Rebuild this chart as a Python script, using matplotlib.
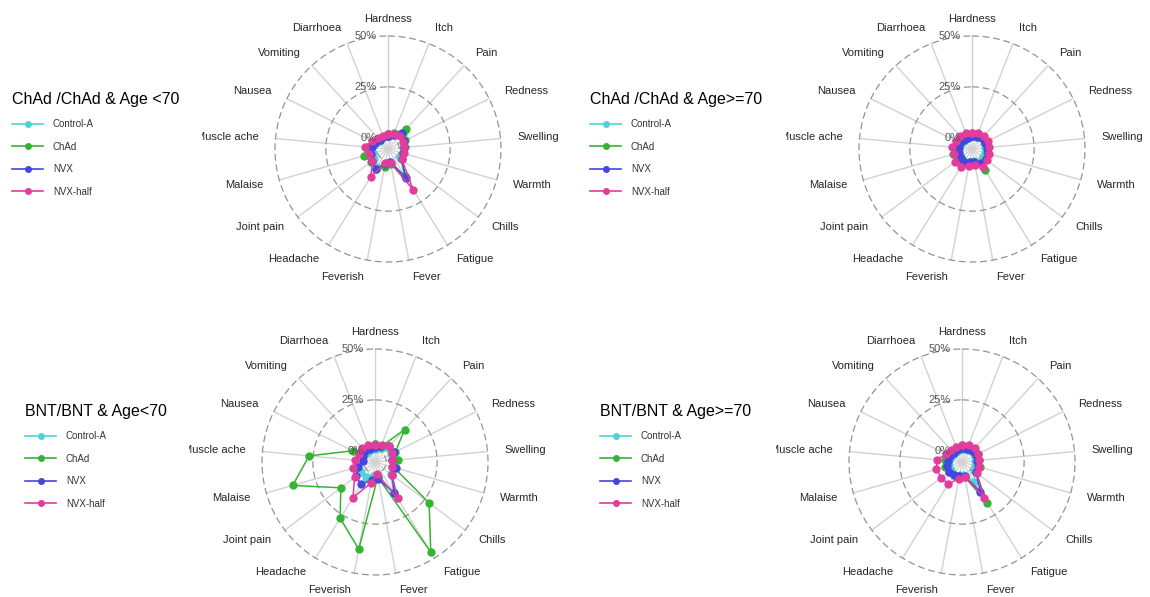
import numpy as np
import matplotlib.pyplot as plt
from matplotlib.lines import Line2D

plt.rcParams['font.family'] = ['Liberation Sans', 'DejaVu Sans']

symptoms = ['Hardness', 'Itch', 'Pain', 'Redness', 'Swelling', 'Warmth', 'Chills',
            'Fatigue', 'Fever', 'Feverish', 'Headache', 'Joint pain', 'Malaise',
            'Muscle ache', 'Nausea', 'Vomiting', 'Diarrhoea']
groups = ['Control-A', 'ChAd', 'NVX', 'NVX-half']
colors = ['#4fd3d6', '#33b533', '#4545e0', '#e23c9c']
grid_values = [0, 25, 50]
grid_labels = ['0%', '25%', '50%']

# % reporting each symptom, order as in `symptoms`
chad_lt70_control = [1, 2, 6, 3, 2, 2, 2, 10, 1, 2, 5, 3, 2, 3, 1, 0, 1]
chad_lt70_chad = [2, 3, 7.5, 4, 3, 2, 3, 10, 2, 3.5, 6, 5, 6.5, 5, 2, 0.5, 1]
chad_lt70_nvx = [1, 2, 5, 3.5, 2.5, 2, 3, 11, 1, 2, 6, 4, 3, 2.5, 1.5, 0.5, 1]
chad_lt70_nvxhalf = [2, 2.5, 3, 2.5, 2.5, 2.5, 3, 18, 1.5, 1.5, 10.5, 4, 4, 6, 3, 2, 1.5]

chad_ge70_control = [1, 1, 1.5, 1, 1, 1, 1, 2, 0.5, 1, 1.5, 1, 1, 1, 0.5, 0, 0.5]
chad_ge70_chad = [1, 1.5, 2, 2, 2.5, 2, 3, 6.3, 1, 1, 2, 2.5, 4.3, 3.5, 2.5, 1, 1]
chad_ge70_nvx = [1, 1, 1.5, 1.5, 2, 2.5, 3, 2.5, 1, 1, 2, 1.5, 1, 1, 1, 0.5, 0.5]
chad_ge70_nvxhalf = [2.5, 3, 3, 3, 3, 3, 3.5, 5, 2.5, 3, 4.8, 4.8, 3.5, 4.3, 3, 3, 2.8]

bnt_lt70_control = [1, 2, 4, 3.3, 3, 3, 4, 12, 2, 2, 3, 2.8, 3, 2, 1, 0.5, 1]
bnt_lt70_chad = [3.3, 2.5, 16, 5.7, 5.8, 4, 27.8, 46.5, 2, 38, 27, 15.5, 36.5, 27, 6.8, 2, 2]
bnt_lt70_nvx = [2, 3, 5, 5, 2.7, 5, 5, 12.5, 3, 3.3, 7.4, 6, 3, 0.5, 1.3, 2, 1.5]
bnt_lt70_nvxhalf = [3, 3.5, 5, 4, 3, 3, 5, 15.5, 0.5, 5, 15, 7, 5.8, 4.3, 3, 4, 3.3]

bnt_ge70_control = [1, 1, 2, 1.5, 1, 1, 2, 6, 1, 1, 2, 1, 1, 1, 0.5, 0, 0.5]
bnt_ge70_chad = [2, 2.5, 3, 3, 3, 3.5, 3, 18, 2, 1.5, 2, 2.5, 3, 2.8, 1.5, 1, 1]
bnt_ge70_nvx = [1.5, 1.5, 2, 2, 2, 2.5, 3, 11.7, 1.5, 1.5, 2, 2.7, 2, 1.5, 1, 0.5, 1]
bnt_ge70_nvxhalf = [3, 3.5, 3.7, 3.5, 3, 3, 3.5, 15, 1.8, 2.7, 7.2, 7.2, 7.5, 6.8, 3, 2.5, 2.3]

panels = [
    ('ChAd /ChAd & Age <70',
     [chad_lt70_control, chad_lt70_chad, chad_lt70_nvx, chad_lt70_nvxhalf],
     (388, 149), (12, 92)),
    ('ChAd /ChAd & Age>=70',
     [chad_ge70_control, chad_ge70_chad, chad_ge70_nvx, chad_ge70_nvxhalf],
     (972, 149), (590, 92)),
    ('BNT/BNT & Age<70',
     [bnt_lt70_control, bnt_lt70_chad, bnt_lt70_nvx, bnt_lt70_nvxhalf],
     (375, 462), (25, 404)),
    ('BNT/BNT & Age>=70',
     [bnt_ge70_control, bnt_ge70_chad, bnt_ge70_nvx, bnt_ge70_nvxhalf],
     (962, 462), (600, 404)),
]

W, H = 1150, 597
fig = plt.figure(figsize=(W / 100, H / 100), dpi=100)

grid_min, grid_max = 0.0, 0.5
offset = (grid_max - grid_min) / 9          # radial offset of the centre
r_out = grid_max + offset
px_per_unit = 203.4
xlim = 0.9167
ylim = 0.7333

n = len(symptoms)
theta = np.arange(n) * 2 * np.pi / n
circ = np.linspace(0, 2 * np.pi, 300)


def radar(ax, series):
    # spokes
    for t in theta:
        ax.plot([0, r_out * np.sin(t)], [0, r_out * np.cos(t)],
                color='#d2d2d2', lw=1.0, zorder=1)
    # dashed grid circles and their labels
    for v, lab in zip(grid_values, grid_labels):
        r = v / 100 + offset
        ax.plot(r * np.sin(circ), r * np.cos(circ), color='#949494',
                lw=0.9, dashes=(5.5, 3), zorder=2)
        ax.text(-offset, r, lab, ha='right', va='center', fontsize=8,
                color='#555555', zorder=5)
    # axis labels
    rl = r_out * 1.15
    for t, name in zip(theta, symptoms):
        x, y = rl * np.sin(t), rl * np.cos(t)
        if abs(x) <= 0.02 * r_out:
            ha = 'center'
        elif x < 0:
            ha = 'right'
        else:
            ha = 'left'
        ax.text(x, y, name, ha=ha, va='center', fontsize=8, color='#262626',
                clip_on=True)
    # groups
    for vals, c in zip(series, colors):
        r = np.asarray(vals) / 100 + offset
        r = np.append(r, r[0])
        t = np.append(theta, theta[0])
        ax.plot(r * np.sin(t), r * np.cos(t), color=c, lw=1.1,
                marker='o', markersize=5, zorder=3)
    ax.set_xlim(-xlim, xlim)
    ax.set_ylim(-ylim, ylim)
    ax.set_axis_off()


aw = 2 * xlim * px_per_unit
ah = 2 * ylim * px_per_unit
handles = [Line2D([], [], color=c, lw=1.2, marker='o', markersize=4) for c in colors]

for title, series, (cx, cy), (lx, ly) in panels:
    ax = fig.add_axes([(cx - aw / 2) / W, (H - cy - ah / 2) / H, aw / W, ah / H])
    radar(ax, series)
    leg = fig.legend(handles, groups, title=title, loc='upper left',
                     bbox_to_anchor=(lx / W, 1 - ly / H), frameon=False,
                     fontsize=7, title_fontsize=11.5, borderpad=0,
                     borderaxespad=0, handlelength=3.2, handletextpad=1.0,
                     labelspacing=1.28, alignment='left')
    for txt in leg.get_texts():
        txt.set_color('#333333')

fig.savefig('out.png', dpi=100)
